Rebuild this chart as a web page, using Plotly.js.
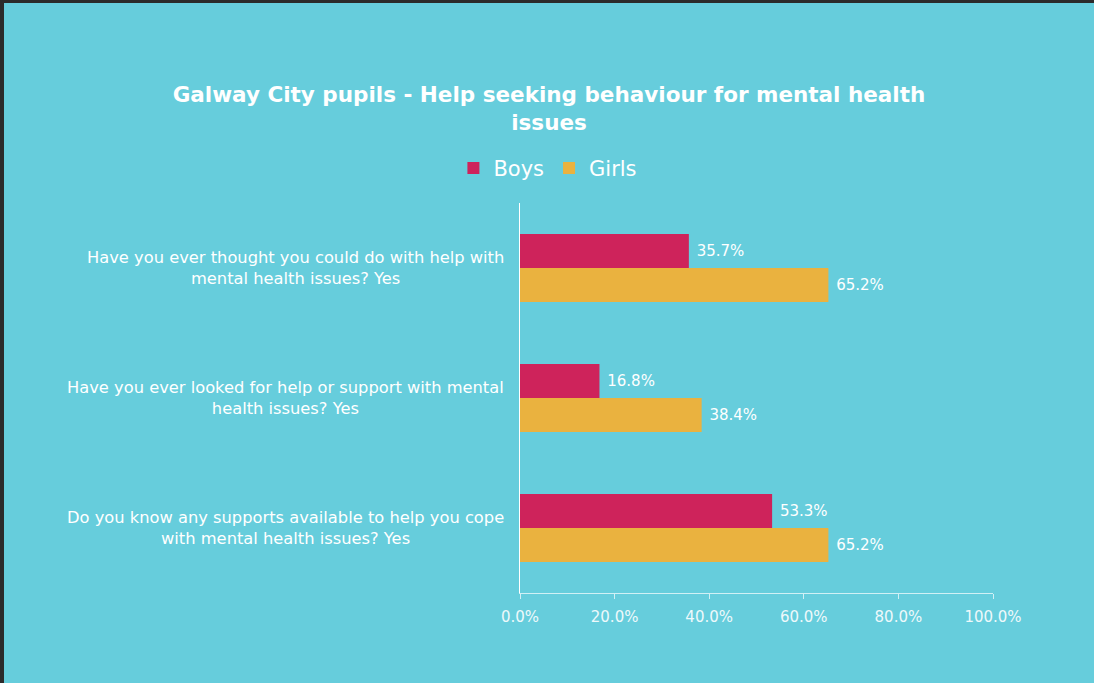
<!DOCTYPE html>
<html>
<head>
<meta charset="utf-8">
<script src="https://cdn.plot.ly/plotly-3.0.1.min.js"></script>
<style>
html,body{margin:0;padding:0;background:#2b2b2b;width:1094px;height:683px;overflow:hidden;}
#chart{position:absolute;left:4px;top:3px;width:1090px;height:680px;}
</style>
</head>
<body>
<div id="chart"></div>
<script>
const categories = [
  "Have you ever thought you could do with help with<br>mental health issues? Yes",
  "Have you ever looked for help or support with mental<br>health issues? Yes",
  "Do you know any supports available to help you cope<br>with mental health issues? Yes"
];
const boys = [35.7, 16.8, 53.3];
const girls = [65.2, 38.4, 65.2];
const seriesNames = ["Boys", "Girls"];
const titleText = "Galway City pupils - Help seeking behaviour for mental health<br>issues";

const FONT = "DejaVu Sans, sans-serif";
const BG = "#66CDDC";

const traces = [
  {type:"bar", orientation:"h", name:seriesNames[0], y:categories, x:boys,
   marker:{color:"#CE235B"}, texttemplate:"\u00a0%{x:.1f}%", textposition:"outside",
   textfont:{color:"#ffffff", size:15, family:FONT}, cliponaxis:false, hoverinfo:"skip"},
  {type:"bar", orientation:"h", name:seriesNames[1], y:categories, x:girls,
   marker:{color:"#EAB23F"}, texttemplate:"\u00a0%{x:.1f}%", textposition:"outside",
   textfont:{color:"#ffffff", size:15, family:FONT}, cliponaxis:false, hoverinfo:"skip"}
];

const annotations = categories.map(c => ({
  xref:"paper", yref:"y", x:0, y:c, xanchor:"right", yanchor:"middle",
  xshift:-14, text:c, align:"center", showarrow:false,
  font:{family:FONT, size:16.3, color:"#ffffff"}
}));

const layout = {
  width:1090, height:680,
  paper_bgcolor:BG, plot_bgcolor:BG,
  font:{family:FONT, color:"#ffffff"},
  margin:{l:516, r:101, t:200, b:90},
  barmode:"group", bargap:0.477, bargroupgap:0,
  title:{text:titleText, x:0.5, xref:"container", xanchor:"center", y:0.855, yref:"container", yanchor:"middle",
         font:{family:FONT, size:21.5, color:"#ffffff", weight:"bold"}},
  showlegend:true,
  legend:{orientation:"h", x:0.499, xref:"container", xanchor:"center", y:0.757, yref:"container", yanchor:"middle",
          font:{family:FONT, size:21, color:"#ffffff"}, traceorder:"normal",
          bgcolor:"rgba(0,0,0,0)"},
  xaxis:{range:[0,100], dtick:20, tickformat:".1f", ticksuffix:"%", showgrid:false,
         zeroline:false, showline:true, linecolor:"rgba(255,255,255,0.7)", linewidth:1,
         ticks:"outside", ticklen:5, tickcolor:"rgba(255,255,255,0.7)", ticklabelstandoff:5,
         tickfont:{family:FONT, size:15, color:"#eef9fb"}, fixedrange:true},
  yaxis:{autorange:"reversed", showticklabels:false, showgrid:false, zeroline:false,
         showline:true, linecolor:"#ffffff", linewidth:1, ticks:"", fixedrange:true},
  annotations:annotations
};

Plotly.newPlot("chart", traces, layout, {displayModeBar:false, staticPlot:true});
</script>
</body>
</html>
